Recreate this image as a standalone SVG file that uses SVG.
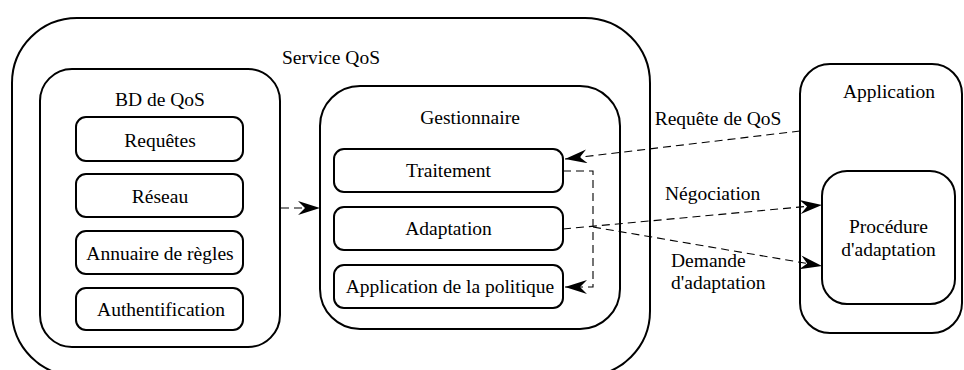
<svg xmlns="http://www.w3.org/2000/svg" width="964" height="370" viewBox="0 0 964 370">
  <defs>
    <style>
      .box { fill: #fff; stroke: #000; stroke-width: 2; }
      .t { font-size: 19.5px; fill: #000; text-anchor: middle; }
      .ts { text-anchor: start; }
      .c { fill: none; stroke: #000; stroke-width: 1.1; stroke-dasharray: 8 5; }
    </style>
    <marker id="arr" viewBox="-22 -7 22 14" refX="0" refY="0" markerWidth="22" markerHeight="14" markerUnits="userSpaceOnUse" orient="auto">
      <path d="M-22,-7 L0,0 L-22,7 L-15,0 Z" fill="#000"/>
    </marker>
  </defs>
  <rect width="964" height="370" fill="#fff"/>
  <g font-family="Liberation Serif, Tinos, Times New Roman, DejaVu Serif, serif">

  <g id="service-qos">
    <rect class="box" x="12" y="18" width="638" height="358" rx="65" ry="65"/>
    <text class="t" x="331" y="64">Service QoS</text>
  </g>

  <g id="bd-qos">
    <rect class="box" x="40" y="69" width="240" height="278" rx="32" ry="32"/>
    <text class="t" x="160" y="106">BD de QoS</text>
  </g>
  <g id="requetes">
    <rect class="box" x="76" y="117" width="167" height="44" rx="10" ry="10"/>
    <text class="t" x="160" y="147">Requêtes</text>
  </g>
  <g id="reseau">
    <rect class="box" x="76" y="174" width="167" height="43" rx="10" ry="10"/>
    <text class="t" x="160" y="203">Réseau</text>
  </g>
  <g id="annuaire">
    <rect class="box" x="76" y="231" width="167" height="43" rx="10" ry="10"/>
    <text class="t" x="160" y="260">Annuaire de règles</text>
  </g>
  <g id="authentification">
    <rect class="box" x="76" y="288" width="167" height="42" rx="10" ry="10"/>
    <text class="t" x="161" y="316">Authentification</text>
  </g>

  <g id="gestionnaire">
    <rect class="box" x="320" y="86" width="300" height="243" rx="40" ry="40"/>
    <text class="t" x="470" y="124">Gestionnaire</text>
  </g>
  <g id="traitement">
    <rect class="box" x="334" y="149" width="229" height="43" rx="10" ry="10"/>
    <text class="t" x="448.5" y="177">Traitement</text>
  </g>
  <g id="adaptation">
    <rect class="box" x="334" y="207" width="229" height="43" rx="10" ry="10"/>
    <text class="t" x="448.5" y="235">Adaptation</text>
  </g>
  <g id="politique">
    <rect class="box" x="334" y="265" width="229" height="43" rx="10" ry="10"/>
    <text class="t" x="450" y="293">Application de la politique</text>
  </g>

  <g id="application">
    <rect class="box" x="800" y="64" width="162" height="269" rx="30" ry="30"/>
    <text class="t" x="889" y="98">Application</text>
  </g>
  <g id="procedure">
    <rect class="box" x="822" y="171" width="133" height="133" rx="25" ry="25"/>
    <text class="t" x="888.5" y="233">Procédure</text>
    <text class="t" x="888.5" y="256">d'adaptation</text>
  </g>

  <g id="connectors">
    <path class="c" d="M281,208 L320,208" marker-end="url(#arr)"/>
    <path class="c" d="M800,131 L565,159" marker-end="url(#arr)"/>
    <path class="c" d="M563,171 L593,171 L593,287 L565,287" marker-end="url(#arr)"/>
    <path class="c" d="M563,229 L822,205" marker-end="url(#arr)"/>
    <path class="c" d="M593,227 L822,266" marker-end="url(#arr)"/>
    <text class="t" x="718" y="125">Requête de QoS</text>
    <text class="t ts" x="665" y="200">Négociation</text>
    <text class="t ts" x="671" y="267">Demande</text>
    <text class="t ts" x="671" y="289">d'adaptation</text>
  </g>
  </g>
</svg>
